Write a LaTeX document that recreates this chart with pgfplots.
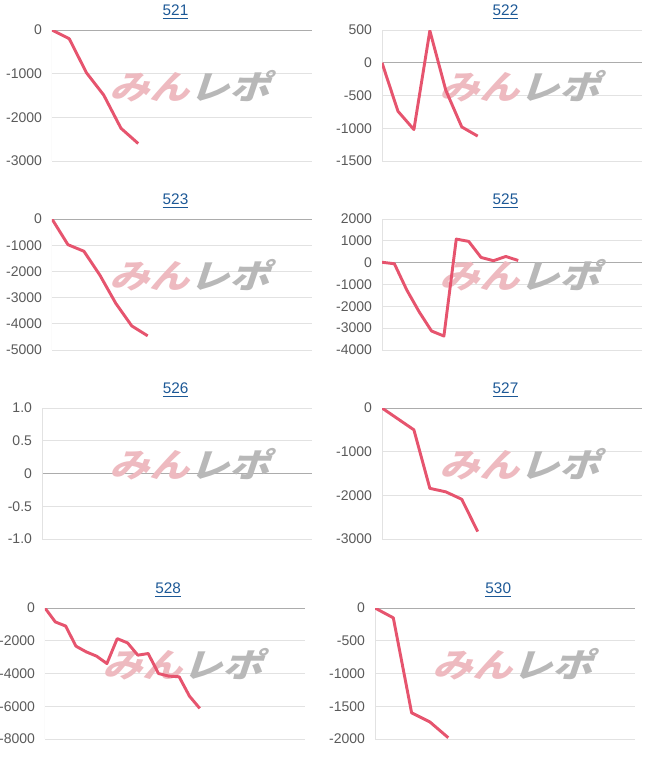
\documentclass[border=0pt]{standalone}
\usepackage{pgfplots}
\pgfplotsset{compat=1.18}
\usepackage{fontspec}
\setmainfont{Liberation Sans}
\newfontfamily\cjk{Noto Sans CJK JP Black}[FakeSlant=0.28]

\definecolor{linered}{RGB}{230,84,110}
\definecolor{gridgray}{RGB}{226,226,226}
\definecolor{zerogray}{RGB}{172,172,172}
\definecolor{ticktext}{RGB}{90,90,90}
\definecolor{titleblue}{RGB}{28,88,150}
\definecolor{wmpink}{RGB}{238,186,192}
\definecolor{wmgray}{RGB}{184,184,184}

\pgfplotsset{
  panel/.style={
    scale only axis,
    width=195pt, height=98.25pt,
    anchor=north west,
    xmin=0, xtick=\empty,
    axis line style={draw=none},
    ymajorgrids,
    grid style={gridgray, line width=0.75pt},
    major tick length=0pt,
    yticklabel style={font=\fontsize{10.5}{11}\selectfont, text=ticktext, xshift=-4pt},
    extra y ticks={0}, extra y tick labels={},
    extra y tick style={grid style={zerogray, line width=0.75pt}},
    title style={font=\fontsize{11.5}{13}\selectfont, text=titleblue, anchor=center, yshift=7.5pt},
  },
  series/.style={linered, line width=2.2pt, line join=round},
}

\newcommand{\wmtext}{\fontsize{25}{25}\selectfont\cjk\textcolor{wmpink}{みん}\textcolor{wmgray}{レポ}}
\newcommand{\watermark}{%
  \node[xscale=1.2, inner sep=0pt] at (rel axis cs:0.530,0.573) {\wmtext};
  \draw[gridgray, line width=0.75pt] (rel axis cs:0,0) -- (rel axis cs:0,1);
}

\begin{document}
\begin{tikzpicture}
\path[use as bounding box] (0,0) rectangle (500.25pt,-573.75pt);

% 521
\begin{axis}[panel, at={(39pt,-22.5pt)}, xmax=15.08,
  ymin=-3000, ymax=0, ytick={-3000,-2000,-1000,0}, yticklabels={-3000,-2000,-1000,0},
  title={\underline{521}}, title style={at={(0.475,1)}}]
\watermark
\addplot[series] coordinates {(0,0) (1,-200) (2,-980) (3,-1490) (4,-2250) (5,-2600)};
\end{axis}

% 522
\begin{axis}[panel, at={(286.5pt,-22.5pt)}, xmax=16.3,
  ymin=-1500, ymax=500, ytick={-1500,-1000,-500,0,500}, yticklabels={-1500,-1000,-500,0,500},
  title={\underline{522}}, title style={at={(0.475,1)}}]
\watermark
\addplot[series] coordinates {(0,0) (1,-740) (2,-1020) (3,490) (4,-420) (5,-980) (6,-1120)};
\end{axis}

% 523
\begin{axis}[panel, at={(39pt,-164.25pt)}, xmax=16.3,
  ymin=-5000, ymax=0, ytick={-5000,-4000,-3000,-2000,-1000,0}, yticklabels={-5000,-4000,-3000,-2000,-1000,0},
  title={\underline{523}}, title style={at={(0.475,1)}}]
\watermark
\addplot[series] coordinates {(0,0) (1,-980) (2,-1230) (3,-2140) (4,-3220) (5,-4080) (6,-4460)};
\end{axis}

% 525
\begin{axis}[panel, at={(286.5pt,-164.25pt)}, xmax=21,
  ymin=-4000, ymax=2000, ytick={-4000,-3000,-2000,-1000,0,1000,2000}, yticklabels={-4000,-3000,-2000,-1000,0,1000,2000},
  title={\underline{525}}, title style={at={(0.475,1)}}]
\watermark
\addplot[series] coordinates {(0,20) (1,-50) (2,-1250) (3,-2250) (4,-3130) (5,-3360) (6,1080) (7,975) (8,240) (9,90) (10,285) (11,100)};
\end{axis}

% 526
\begin{axis}[panel, width=202.5pt, at={(31.5pt,-306pt)}, xmax=16,
  ymin=-1, ymax=1, ytick={-1,-0.5,0,0.5,1}, yticklabels={-1.0,-0.5,0,0.5,1.0},
  title={\underline{526}}, title style={at={(0.495,1)}}]
\node[xscale=1.2, inner sep=0pt] at (rel axis cs:0.548,0.573) {\wmtext};
\draw[gridgray, line width=0.75pt] (rel axis cs:0,0) -- (rel axis cs:0,1);
\end{axis}

% 527
\begin{axis}[panel, at={(286.5pt,-306pt)}, xmax=16.3,
  ymin=-3000, ymax=0, ytick={-3000,-2000,-1000,0}, yticklabels={-3000,-2000,-1000,0},
  title={\underline{527}}, title style={at={(0.475,1)}}]
\watermark
\addplot[series] coordinates {(0,0) (1,-250) (2,-500) (3,-1840) (4,-1920) (5,-2090) (6,-2830)};
\end{axis}

% 528
\begin{axis}[panel, at={(33.75pt,-456pt)}, xmax=25.2,
  ymin=-8000, ymax=0, ytick={-8000,-6000,-4000,-2000,0}, yticklabels={-8000,-6000,-4000,-2000,0},
  title={\underline{528}}, title style={at={(0.474,1)}}]
\watermark
\addplot[series] coordinates {(0,0) (1,-850) (2,-1100) (3,-2330) (4,-2680) (5,-2940) (6,-3390) (7,-1870) (8,-2130) (9,-2880) (10,-2780) (11,-4000) (12,-4160) (13,-4200) (14,-5380) (15,-6130)};
\end{axis}

% 530
\begin{axis}[panel, at={(281.25pt,-456pt)}, xmax=14.2,
  ymin=-2000, ymax=0, ytick={-2000,-1500,-1000,-500,0}, yticklabels={-2000,-1500,-1000,-500,0},
  title={\underline{530}}, title style={at={(0.474,1)}}]
\watermark
\addplot[series] coordinates {(0,0) (1,-150) (2,-1600) (3,-1740) (4,-1980)};
\end{axis}

\end{tikzpicture}
\end{document}
